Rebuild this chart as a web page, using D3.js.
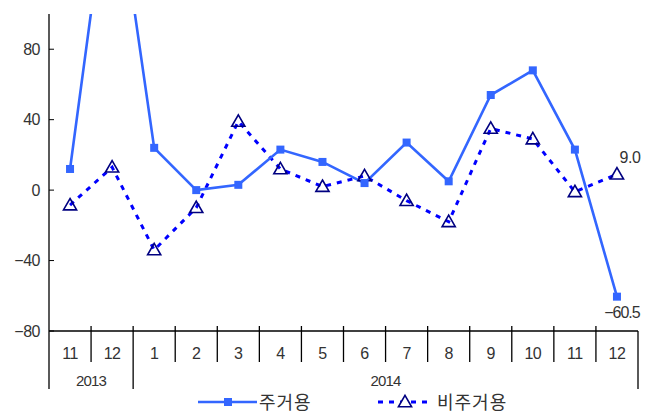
<!DOCTYPE html>
<html>
<head>
<meta charset="utf-8">
<script src="https://cdn.jsdelivr.net/npm/d3@7"></script>
<style>
  body { margin: 0; background: #fff; }
  text { font-family: "Liberation Sans", "Noto Sans CJK KR", sans-serif; fill: #333; }
</style>
</head>
<body>
<div id="chart"></div>
<script>
// months and year groups
const months = ["11", "12", "1", "2", "3", "4", "5", "6", "7", "8", "9", "10", "11", "12"];
const years = [{ label: "2013", from: 0, to: 2 }, { label: "2014", from: 2, to: 14 }];
const yTicks = [-80, -40, 0, 40, 80];

// 주거용 (residential) - 12/2013 goes off the top
const residential = [12, 190, 24, 0, 3, 23, 16, 4, 27, 5, 54, 68, 23, -60.5];
// 비주거용 (non-residential)
const nonResidential = [-8.5, 13, -34, -10, 39, 12, 2, 8, -6, -18, 35, 29, -1, 9.0];

const width = 655, height = 412;
const margin = { left: 49, right: 17, top: 14, bottom: 81 };

const svg = d3.select("#chart").append("svg")
    .attr("width", width)
    .attr("height", height);

const x = d3.scaleBand()
    .domain(d3.range(months.length))
    .range([margin.left, width - margin.right]);

const y = d3.scaleLinear()
    .domain([-80, 100])
    .range([height - margin.bottom, margin.top]);

const cx = i => x(i) + x.bandwidth() / 2;

// clip so the 2013-12 spike is cut at the top
svg.append("clipPath").attr("id", "plot")
    .append("rect")
    .attr("x", margin.left)
    .attr("y", margin.top)
    .attr("width", width - margin.left - margin.right + 10)
    .attr("height", height - margin.top - margin.bottom + 10);

// y axis
const yAxis = svg.append("g")
    .attr("transform", `translate(${margin.left},0)`)
    .call(d3.axisLeft(y).tickValues(yTicks).tickSize(0).tickPadding(9)
        .tickFormat(d => d < 0 ? "\u2212" + Math.abs(d) : d));
yAxis.select(".domain").remove();
yAxis.selectAll("text").style("font-size", "16px").style("letter-spacing", "-0.5px").attr("fill", "#333");
svg.append("line")
    .attr("x1", margin.left).attr("x2", margin.left)
    .attr("y1", margin.top).attr("y2", y(-80))
    .attr("stroke", "#000").attr("stroke-width", 1.3);
svg.selectAll(".ytick")
    .data(yTicks)
    .join("line")
    .attr("x1", margin.left).attr("x2", margin.left + 5)
    .attr("y1", d => y(d)).attr("y2", d => y(d))
    .attr("stroke", "#000");

// x axis baseline
svg.append("line")
    .attr("x1", margin.left).attr("x2", width - margin.right)
    .attr("y1", y(-80)).attr("y2", y(-80))
    .attr("stroke", "#000").attr("stroke-width", 1.3);

// month separators
svg.selectAll(".msep")
    .data(d3.range(1, months.length))
    .join("line")
    .attr("x1", d => x(d)).attr("x2", d => x(d))
    .attr("y1", y(-80) - 5)
    .attr("y2", d => years.some(g => g.from === d) ? 389 : 362)
    .attr("stroke", "#000").attr("stroke-width", 1.3);

// outer year edges
svg.selectAll(".ysep")
    .data([margin.left, width - margin.right])
    .join("line")
    .attr("x1", d => d).attr("x2", d => d)
    .attr("y1", y(-80)).attr("y2", 389)
    .attr("stroke", "#000").attr("stroke-width", 1.3);

svg.selectAll(".mlabel")
    .data(months)
    .join("text")
    .attr("x", (d, i) => cx(i))
    .attr("y", 359)
    .attr("text-anchor", "middle")
    .style("font-size", "16px")
    .style("letter-spacing", "-0.5px")
    .text(d => d);

svg.selectAll(".ylabel")
    .data(years)
    .join("text")
    .attr("x", d => (x(d.from) + (d.to < months.length ? x(d.to) : width - margin.right)) / 2)
    .attr("y", 386)
    .attr("text-anchor", "middle")
    .style("font-size", "15px")
    .style("letter-spacing", "-0.8px")
    .text(d => d.label);

// lines
const line = d3.line().x((d, i) => cx(i)).y(d => y(d));
const plot = svg.append("g").attr("clip-path", "url(#plot)");

plot.append("path")
    .datum(nonResidential)
    .attr("d", line)
    .attr("fill", "none")
    .attr("stroke", "#0000ff")
    .attr("stroke-width", 3)
    .attr("stroke-dasharray", "5,6");

plot.append("path")
    .datum(residential)
    .attr("d", line)
    .attr("fill", "none")
    .attr("stroke", "#3366ff")
    .attr("stroke-width", 2.6);

const tri = d3.symbol().type(d3.symbolTriangle).size(75);

plot.selectAll(".tri")
    .data(nonResidential)
    .join("path")
    .attr("d", tri)
    .attr("transform", (d, i) => `translate(${cx(i)},${y(d) + 1})`)
    .attr("fill", "none")
    .attr("stroke", "#000080")
    .attr("stroke-width", 1.6);

plot.selectAll(".sq")
    .data(residential)
    .join("rect")
    .attr("x", (d, i) => cx(i) - 4)
    .attr("y", d => y(d) - 4)
    .attr("width", 8).attr("height", 8)
    .attr("fill", "#3366ff");

// end labels
const last = months.length - 1;
svg.append("text")
    .attr("x", cx(last) + 13).attr("y", y(nonResidential[last]) - 11)
    .attr("text-anchor", "middle")
    .style("font-size", "16px")
    .style("letter-spacing", "-0.5px")
    .text(nonResidential[last].toFixed(1));
svg.append("text")
    .attr("x", cx(last) + 5).attr("y", y(residential[last]) + 21)
    .attr("text-anchor", "middle")
    .style("font-size", "16px")
    .style("letter-spacing", "-1px")
    .text("\u2212" + Math.abs(residential[last]).toFixed(1));

// legend
const lg = svg.append("g");
lg.append("line")
    .attr("x1", 198).attr("x2", 257).attr("y1", 402).attr("y2", 402)
    .attr("stroke", "#3366ff").attr("stroke-width", 2.6);
lg.append("rect")
    .attr("x", 224).attr("y", 398).attr("width", 8).attr("height", 8)
    .attr("fill", "#3366ff");
lg.append("text")
    .attr("x", 259).attr("y", 409)
    .style("font-size", "18px")
    .style("letter-spacing", "1px")
    .text("주거용");

lg.append("line")
    .attr("x1", 378).attr("x2", 433).attr("y1", 402).attr("y2", 402)
    .attr("stroke", "#0000ff").attr("stroke-width", 3)
    .attr("stroke-dasharray", "5,6");
lg.append("path")
    .attr("d", tri)
    .attr("transform", "translate(405,403)")
    .attr("fill", "#fff")
    .attr("stroke", "#000080")
    .attr("stroke-width", 1.6);
lg.append("text")
    .attr("x", 437).attr("y", 409)
    .style("font-size", "18px")
    .style("letter-spacing", "1px")
    .text("비주거용");
</script>
</body>
</html>
